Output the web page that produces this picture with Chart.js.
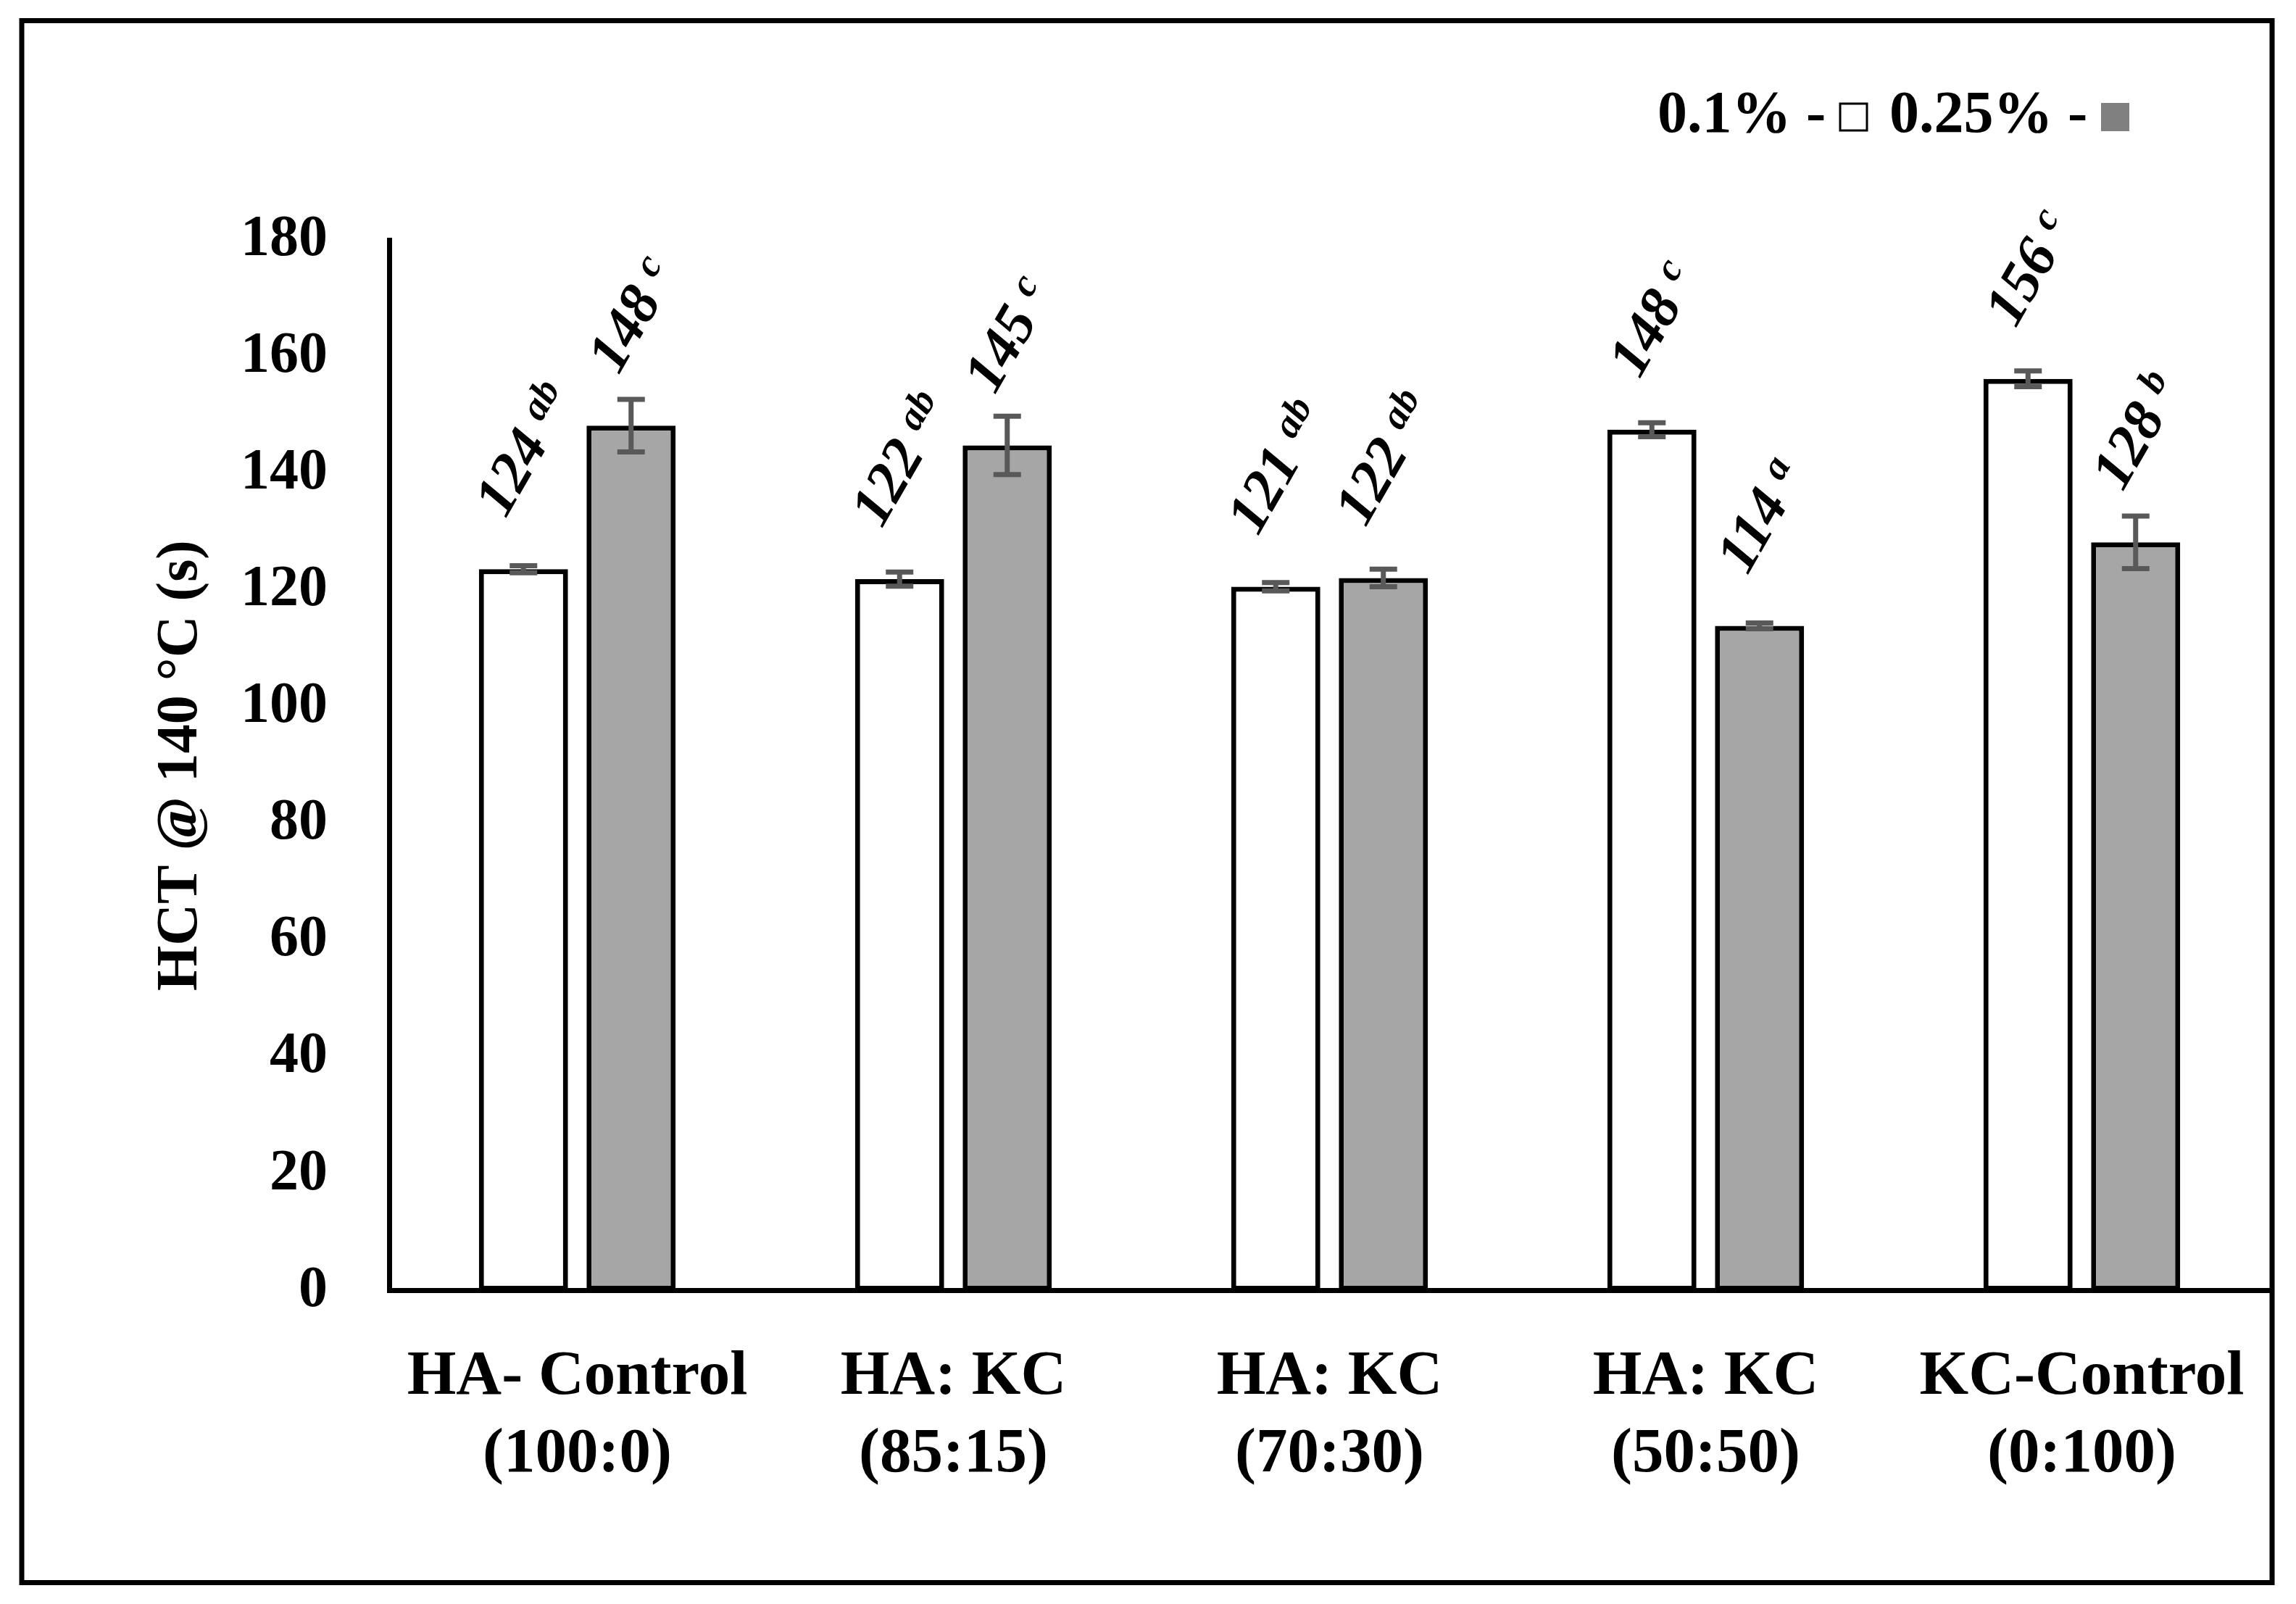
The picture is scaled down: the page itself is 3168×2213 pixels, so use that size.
<!DOCTYPE html>
<html>
<head>
<meta charset="utf-8">
<script src="https://cdn.jsdelivr.net/npm/chart.js@4.4.1/dist/chart.umd.min.js"></script>
<style>
html,body{margin:0;padding:0;background:#fff;}
#wrap{width:3168px;height:2213px;position:relative;}
</style>
</head>
<body>
<div id="wrap"><canvas id="c"></canvas></div>
<script>
// ---- data ----
const categories = [
  ['HA- Control', '(100:0)'],
  ['HA: KC', '(85:15)'],
  ['HA: KC', '(70:30)'],
  ['HA: KC', '(50:50)'],
  ['KC-Control', '(0:100)']
];
const seriesNames = ['0.1%', '0.25%'];
const values01  = [123.6, 121.9, 120.6, 147.5, 156.2];
const values025 = [148.2, 144.8, 122.1, 113.9, 128.2];
const errors01  = [0.6, 1.2, 0.7, 1.2, 1.35];
const errors025 = [4.5, 5.0, 1.5, 0.5, 4.5];
const labelNums01  = ['124', '122', '121', '148', '156'];
const labelSup01   = ['ab', 'ab', 'ab', 'c', 'c'];
const labelNums025 = ['148', '145', '122', '114', '128'];
const labelSup025  = ['c', 'c', 'ab', 'a', 'b'];
const yMin = 0, yMax = 180, yStep = 20;
const yTitle = 'HCT @ 140 \u00B0C (s)';

const FONT = '"Liberation Serif", "Times New Roman", serif';

const errorSets = [errors01, errors025];
const labelSets = [[labelNums01, labelSup01], [labelNums025, labelSup025]];

const bgPlugin = {
  id: 'bg',
  beforeDraw(chart) {
    const ctx = chart.ctx;
    ctx.save();
    ctx.fillStyle = '#ffffff';
    ctx.fillRect(0, 0, chart.width, chart.height);
    ctx.restore();
  },
  afterDraw(chart) {
    const ctx = chart.ctx;
    ctx.save();
    ctx.strokeStyle = '#000';
    ctx.lineWidth = 7;
    ctx.strokeRect(30, 28.5, chart.width - 63, chart.height - 58);
    ctx.restore();
  }
};

const errorPlugin = {
  id: 'errbars',
  afterDatasetsDraw(chart) {
    const ctx = chart.ctx;
    const ys = chart.scales.y;
    ctx.save();
    ctx.strokeStyle = '#595959';
    ctx.lineWidth = 7;
    ctx.lineCap = 'butt';
    chart.data.datasets.forEach((ds, di) => {
      const meta = chart.getDatasetMeta(di);
      meta.data.forEach((el, i) => {
        const v = ds.data[i], e = errorSets[di][i];
        const yt = ys.getPixelForValue(v + e);
        const yb = ys.getPixelForValue(v - e);
        const x = el.x;
        const cap = 19;
        ctx.beginPath();
        ctx.moveTo(x, yt); ctx.lineTo(x, yb);
        ctx.moveTo(x - cap, yt); ctx.lineTo(x + cap, yt);
        ctx.moveTo(x - cap, yb); ctx.lineTo(x + cap, yb);
        ctx.stroke();
      });
    });
    ctx.restore();
  }
};

const labelPlugin = {
  id: 'vlabels',
  afterDatasetsDraw(chart) {
    const ctx = chart.ctx;
    const mainFont = 'italic bold 80px ' + FONT;
    const supFont = 'italic bold 54px ' + FONT;
    ctx.save();
    ctx.fillStyle = '#000';
    ctx.textAlign = 'left';
    ctx.textBaseline = 'alphabetic';
    chart.data.datasets.forEach((ds, di) => {
      const meta = chart.getDatasetMeta(di);
      meta.data.forEach((el, i) => {
        const num = labelSets[di][0][i];
        const sup = labelSets[di][1][i];
        ctx.font = mainFont;
        const w1 = ctx.measureText(num + ' ').width;
        ctx.font = supFont;
        const w2 = ctx.measureText(sup).width;
        const L = w1 + w2;
        const H = 55;
        const ax = el.x - (0.5 * L - 0.866 * H) / 2;
        const ay = el.y - 69;
        ctx.save();
        ctx.translate(ax, ay);
        ctx.rotate(-Math.PI / 3);
        ctx.font = mainFont;
        ctx.fillText(num, 0, 0);
        ctx.font = supFont;
        ctx.fillText(sup, w1, -24);
        ctx.restore();
      });
    });
    ctx.restore();
  }
};

const legendPlugin = {
  id: 'customLegend',
  afterDraw(chart) {
    const ctx = chart.ctx;
    ctx.save();
    ctx.font = 'bold 82px ' + FONT;
    ctx.fillStyle = '#000';
    ctx.textAlign = 'left';
    ctx.textBaseline = 'alphabetic';
    const base = 182;
    ctx.fillText(seriesNames[0] + ' -', 2287, base);
    ctx.fillStyle = '#ffffff';
    ctx.fillRect(2539, 143, 37, 37);
    ctx.strokeStyle = '#000';
    ctx.lineWidth = 3;
    ctx.strokeRect(2539, 143, 37, 37);
    ctx.fillStyle = '#000';
    ctx.fillText(seriesNames[1] + ' -', 2607, base);
    ctx.fillStyle = '#808080';
    ctx.fillRect(2899, 142, 39, 39);
    ctx.restore();
  }
};

new Chart(document.getElementById('c'), {
  type: 'bar',
  data: {
    labels: categories,
    datasets: [
      {
        label: seriesNames[0],
        data: values01,
        backgroundColor: '#ffffff',
        borderColor: '#000000',
        borderWidth: 7,
        borderSkipped: false,
        categoryPercentage: 0.5723,
        barPercentage: 0.828
      },
      {
        label: seriesNames[1],
        data: values025,
        backgroundColor: '#a6a6a6',
        borderColor: '#000000',
        borderWidth: 7,
        borderSkipped: false,
        categoryPercentage: 0.5723,
        barPercentage: 0.828
      }
    ]
  },
  options: {
    responsive: true,
    maintainAspectRatio: false,
    devicePixelRatio: 1,
    animation: false,
    layout: { padding: { left: 0, right: 36, top: 331, bottom: 86 } },
    plugins: {
      legend: { display: false },
      tooltip: { enabled: false },
      title: { display: false }
    },
    scales: {
      x: {
        grid: { display: false, drawTicks: false },
        border: { display: true, color: '#000', width: 7 },
        ticks: {
          color: '#000',
          font: { family: FONT, size: 87, weight: 'bold', lineHeight: 1.23 },
          padding: 66,
          maxRotation: 0,
          minRotation: 0,
          autoSkip: false
        }
      },
      y: {
        min: yMin,
        max: yMax,
        grid: { display: false, drawTicks: false },
        border: { display: true, color: '#000', width: 7 },
        ticks: {
          stepSize: yStep,
          color: '#000',
          font: { family: FONT, size: 80, weight: 'bold' },
          padding: 85
        },
        title: {
          display: true,
          text: yTitle,
          color: '#000',
          font: { family: FONT, size: 80, weight: 'bold', lineHeight: 1.2 },
          padding: { top: 202, bottom: 0 }
        },
        afterFit(scale) { scale.width = 537; }
      }
    }
  },
  plugins: [bgPlugin, errorPlugin, labelPlugin, legendPlugin]
});
</script>
</body>
</html>
